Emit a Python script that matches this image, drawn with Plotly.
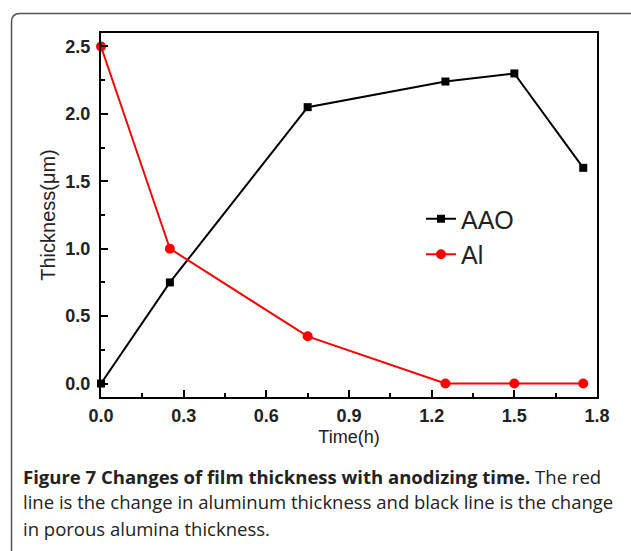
import plotly.graph_objects as go

time_h = [0, 0.25, 0.75, 1.25, 1.5, 1.75]
aao = [0, 0.75, 2.05, 2.24, 2.3, 1.6]
al = [2.5, 1.0, 0.35, 0, 0, 0]
x_ticks = [0.0, 0.3, 0.6, 0.9, 1.2, 1.5, 1.8]
y_ticks = [0.0, 0.5, 1.0, 1.5, 2.0, 2.5]
caption_lines = [
    "<b>Figure 7 Changes of film thickness with anodizing time.</b> The red",
    "line is the change in aluminum thickness and black line is the change",
    "in porous alumina thickness.",
]

W, H = 631, 551
L, R, T, B = 101, 597, 33, 397
pw, ph = R - L, B - T

def px(x):
    return (x - L) / pw

def py(y):
    return (B - y) / ph

fig = go.Figure()
fig.add_trace(go.Scatter(x=time_h, y=aao, name="AAO", mode="lines+markers",
                         line=dict(color="black", width=2),
                         marker=dict(symbol="square", size=8, color="black"),
                         cliponaxis=False))
fig.add_trace(go.Scatter(x=time_h, y=al, name="Al", mode="lines+markers",
                         line=dict(color="#ff0000", width=2),
                         marker=dict(symbol="circle", size=10, color="#ff0000"),
                         cliponaxis=False))

axis_common = dict(showline=True, linecolor="black", linewidth=2, mirror=True,
                   ticks="inside", ticklen=7, tickwidth=1.5, tickcolor="black",
                   showgrid=False, zeroline=False,
                   tickfont=dict(family="Liberation Sans", size=18, color="#222", weight="bold"))

fig.update_xaxes(range=[0, 1.8], tickvals=x_ticks, ticktext=[f"{v:.1f}" for v in x_ticks],
                 minor=dict(ticks="inside", dtick=0.15, tick0=0, ticklen=4, tickcolor="black"),
                 ticklabelstandoff=1,
                 title=dict(text="Time(h)", font=dict(family="Liberation Sans", size=18, color="#222"), standoff=6),
                 **axis_common)
fig.update_yaxes(range=[-0.1, 2.6], tickvals=y_ticks, ticktext=[f"{v:.1f}" for v in y_ticks],
                 minor=dict(ticks="inside", dtick=0.25, tick0=0, ticklen=4, tickcolor="black"),
                 ticklabelstandoff=5,
                 title=dict(text="Thickness(μm)", font=dict(family="Liberation Sans", size=20, color="#222"), standoff=4),
                 **axis_common)

fig.update_layout(
    width=W, height=H,
    margin=dict(l=L, r=W - R, t=T, b=H - B),
    paper_bgcolor="white", plot_bgcolor="white",
    showlegend=True,
    legend=dict(x=px(421), y=py(196), xanchor="left", yanchor="top",
                bgcolor="rgba(0,0,0,0)", font=dict(family="Liberation Sans", size=25, color="#222"),
                tracegroupgap=0, itemwidth=30),
)

# card border with rounded top-left corner
fig.add_shape(type="path", xref="paper", yref="paper",
              path=f"M {px(11.5)},{py(600)} L {px(11.5)},{py(22)} Q {px(11.5)},{py(13.5)} {px(20)},{py(13.5)} L {px(700)},{py(13.5)}",
              line=dict(color="#555", width=1.5), layer="below")

for i, (txt, yc) in enumerate(zip(caption_lines, [476, 502, 528])):
    fig.add_annotation(text=txt, xref="paper", yref="paper", x=px(21), y=py(yc),
                       xanchor="left", yanchor="middle", showarrow=False,
                       font=dict(family="Open Sans", size=18.5, color="#222"))

fig.write_html("out.html")
